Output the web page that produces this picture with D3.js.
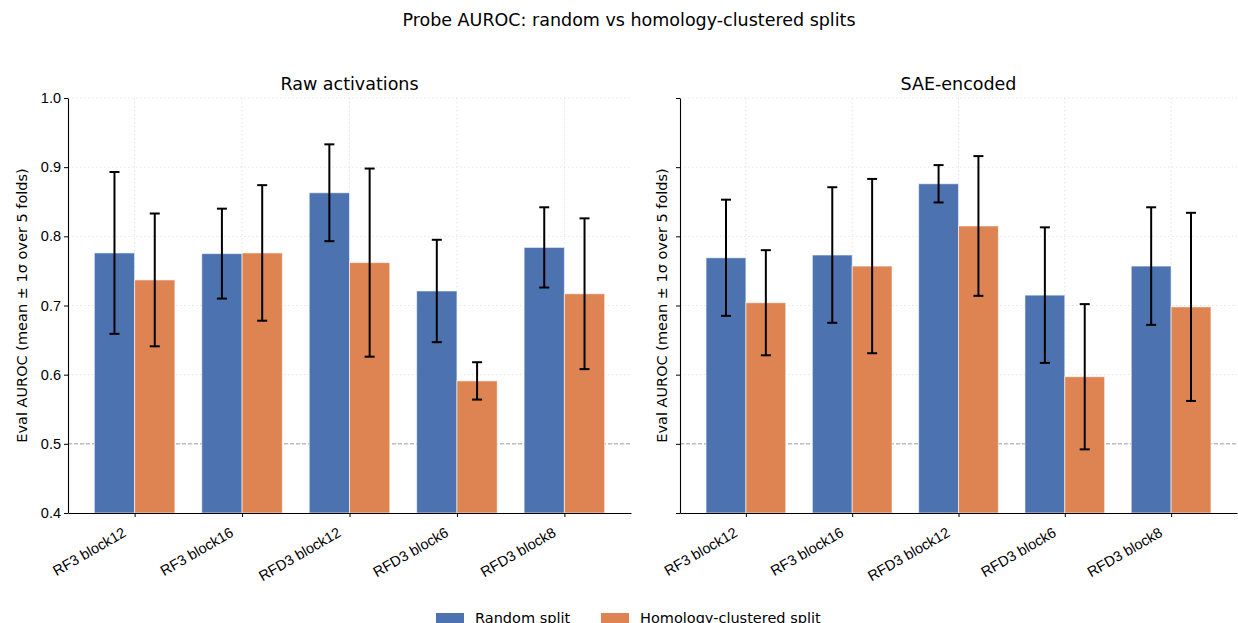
<!DOCTYPE html>
<html>
<head>
<meta charset="utf-8">
<script src="https://cdn.jsdelivr.net/npm/d3@7"></script>
<style>
  body { margin: 0; background: #fff; }
  svg { font-family: "DejaVu Sans", sans-serif; }
</style>
</head>
<body>
<div id="chart"></div>
<script>
// data
var categories = ["RF3 block12", "RF3 block16", "RFD3 block12", "RFD3 block6", "RFD3 block8"];
var seriesNames = ["Random split", "Homology-clustered split"];
var rawRandom = [0.776, 0.775, 0.863, 0.721, 0.784];
var rawRandomSd = [0.117, 0.065, 0.070, 0.074, 0.058];
var rawHomology = [0.737, 0.776, 0.762, 0.591, 0.717];
var rawHomologySd = [0.096, 0.098, 0.136, 0.027, 0.109];
var saeRandom = [0.769, 0.773, 0.876, 0.715, 0.757];
var saeRandomSd = [0.084, 0.098, 0.027, 0.098, 0.085];
var saeHomology = [0.704, 0.757, 0.815, 0.597, 0.698];
var saeHomologySd = [0.076, 0.126, 0.101, 0.105, 0.136];
var yTicks = [0.4, 0.5, 0.6, 0.7, 0.8, 0.9, 1.0];

var colors = ["#4C72B0", "#DD8452"];
var width = 1238, height = 623;
var plotTop = 98, plotBottom = 513;
var smallFont = 14.5, titleFont = 17.5;

var svg = d3.select("#chart").append("svg")
  .attr("width", width).attr("height", height);

svg.append("text")
  .attr("x", 629).attr("y", 26)
  .attr("text-anchor", "middle")
  .attr("font-size", titleFont)
  .text("Probe AUROC: random vs homology-clustered splits");

var yScale = d3.scaleLinear().domain([0.4, 1.0]).range([plotBottom, plotTop]);

function panel(left, right, title, showLabels, a, aSd, b, bSd) {
  var g = svg.append("g");
  var xScale = d3.scaleLinear().domain([-0.62, 4.62]).range([left, right]);
  var bw = 0.375;

  // grid
  g.selectAll(".gy").data(yTicks.slice(1)).enter().append("line")
    .attr("x1", left).attr("x2", right)
    .attr("y1", function(d) { return yScale(d); })
    .attr("y2", function(d) { return yScale(d); })
    .attr("stroke", "#e4e4e4").attr("stroke-dasharray", "1.5,2.5");
  g.selectAll(".gx").data(categories).enter().append("line")
    .attr("x1", function(d, i) { return xScale(i); })
    .attr("x2", function(d, i) { return xScale(i); })
    .attr("y1", plotTop).attr("y2", plotBottom)
    .attr("stroke", "#e4e4e4").attr("stroke-dasharray", "1.5,2.5");

  // chance line
  g.append("line")
    .attr("x1", left).attr("x2", right)
    .attr("y1", yScale(0.5)).attr("y2", yScale(0.5))
    .attr("stroke", "#a0a0a0").attr("stroke-dasharray", "4,2").attr("stroke-width", 1);

  var sets = [[a, aSd], [b, bSd]];
  sets.forEach(function(s, k) {
    var rows = categories.map(function(c, i) { return { i: i, v: s[0][i], sd: s[1][i] }; });
    var off = k === 0 ? -bw / 2 : bw / 2;
    g.selectAll(".bar" + k).data(rows).enter().append("rect")
      .attr("x", function(d) { return xScale(d.i + off - bw / 2); })
      .attr("width", xScale(bw) - xScale(0))
      .attr("y", function(d) { return yScale(d.v); })
      .attr("height", function(d) { return plotBottom - yScale(d.v); })
      .attr("fill", colors[k])
      .attr("stroke", "#fff").attr("stroke-opacity", 0.6).attr("stroke-width", 1);
    var eb = g.selectAll(".err" + k).data(rows).enter().append("g")
      .attr("stroke", "#000").attr("stroke-width", 2);
    eb.append("line")
      .attr("x1", function(d) { return xScale(d.i + off); })
      .attr("x2", function(d) { return xScale(d.i + off); })
      .attr("y1", function(d) { return yScale(d.v + d.sd); })
      .attr("y2", function(d) { return yScale(d.v - d.sd); });
    [1, -1].forEach(function(sg) {
      eb.append("line")
        .attr("x1", function(d) { return xScale(d.i + off) - 5; })
        .attr("x2", function(d) { return xScale(d.i + off) + 5; })
        .attr("y1", function(d) { return yScale(d.v + sg * d.sd); })
        .attr("y2", function(d) { return yScale(d.v + sg * d.sd); });
    });
  });

  // axes
  var xAxis = d3.axisBottom(xScale).tickValues(d3.range(categories.length))
    .tickFormat(function(i) { return categories[i]; }).tickSize(4).tickSizeOuter(0);
  var xg = g.append("g").attr("transform", "translate(0," + plotBottom + ")").call(xAxis);
  xg.selectAll(".tick text")
    .attr("font-size", smallFont)
    .attr("fill", "#000")
    .attr("text-anchor", "end")
    .attr("x", 0).attr("y", 0).attr("dy", 0)
    .attr("transform", "translate(-8,22.5) rotate(-30)");

  var yAxis = d3.axisLeft(yScale).tickValues(yTicks)
    .tickFormat(showLabels ? d3.format(".1f") : "").tickSize(4).tickSizeOuter(0);
  var yg = g.append("g").attr("transform", "translate(" + left + ",0)").call(yAxis);
  yg.selectAll(".tick text").attr("font-size", smallFont).attr("fill", "#000");
  g.selectAll(".domain").attr("stroke", "#000").attr("stroke-width", 1.1);

  g.append("text")
    .attr("x", (left + right) / 2).attr("y", 90)
    .attr("text-anchor", "middle").attr("font-size", titleFont)
    .text(title);

  var labelX = showLabels ? left - 41 : left - 13;
  g.append("text")
    .attr("transform", "translate(" + labelX + "," + ((plotTop + plotBottom) / 2) + ") rotate(-90)")
    .attr("text-anchor", "middle").attr("font-size", smallFont)
    .text("Eval AUROC (mean \u00b1 1\u03c3 over 5 folds)");
}

panel(68, 631, "Raw activations", true, rawRandom, rawRandomSd, rawHomology, rawHomologySd);
panel(680, 1237, "SAE-encoded", false, saeRandom, saeRandomSd, saeHomology, saeHomologySd);

// legend
var legend = svg.append("g");
var lx = [436, 601];
seriesNames.forEach(function(name, k) {
  legend.append("rect").attr("x", lx[k]).attr("y", 613)
    .attr("width", 28).attr("height", 10).attr("fill", colors[k]);
  legend.append("text").attr("x", lx[k] + 39).attr("y", 623)
    .attr("font-size", smallFont).text(name);
});
</script>
</body>
</html>
